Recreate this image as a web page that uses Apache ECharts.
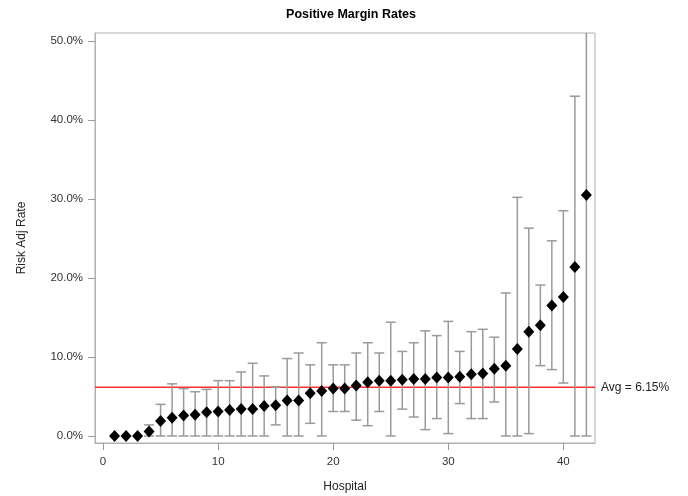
<!DOCTYPE html>
<html><head><meta charset="utf-8">
<script src="https://cdn.jsdelivr.net/npm/echarts@6/dist/echarts.min.js"></script>
<style>html,body{margin:0;padding:0;background:#fff}#c{width:688px;height:496px}</style>
</head><body><div id="c"></div>
<script>
const hospitals = [1,2,3,4,5,6,7,8,9,10,11,12,13,14,15,16,17,18,19,20,21,22,23,24,25,26,27,28,29,30,31,32,33,34,35,36,37,38,39,40,41,42];
const rates = [0,0,0,0.55,1.9,2.3,2.6,2.7,3.0,3.1,3.3,3.4,3.4,3.8,3.9,4.5,4.5,5.4,5.7,6.0,6.0,6.4,6.8,7.0,7.0,7.1,7.2,7.2,7.4,7.4,7.5,7.8,7.9,8.5,8.9,11.0,13.2,14.0,16.5,17.6,21.4,30.5];
const upper = [0,0,0,1.4,4.0,6.6,6.0,5.6,5.9,7.0,7.0,8.1,9.2,7.6,6.2,9.8,10.5,9.0,11.8,9.0,9.0,10.5,11.8,10.5,14.4,10.7,11.8,13.3,12.7,14.5,10.7,13.2,13.5,12.5,18.1,30.2,26.3,19.1,24.7,28.5,43.0,60.0];
const lower = [0,0,0,0,0,0,0,0,0,0,0,0,0,0,1.4,0,0,1.6,0,3.1,3.1,2.0,1.3,3.1,0,3.4,2.4,0.8,2.2,0.3,4.1,2.2,2.2,4.3,0,0,0.3,8.9,8.4,6.7,0,0];
const average = 6.15;
const avgLabel = 'Avg = 6.15%';
const xTicks = [0,10,20,30,40];
const yTicks = [0,10,20,30,40,50];
const xMin = -0.7, xMax = 42.75;

const chart = echarts.init(document.getElementById('c'));
const font = 'Liberation Sans, Arial, sans-serif';
const errData = hospitals.map((h,i)=>[h, lower[i], upper[i]]);
chart.setOption({
  animation:false,
  backgroundColor:'#fff',
  title:{text:'Positive Margin Rates', left:346, textAlign:'center', top:3,
    textStyle:{fontFamily:font, fontSize:12.5, fontWeight:'bold', color:'#000'}},
  grid:{left:95, right:93, top:33, bottom:53, show:true, borderColor:'#b0b0b0', borderWidth:1,
    backgroundColor:'#fff', outerBoundsMode:'none', containLabel:false},
  xAxis:{type:'value', min:xMin, max:xMax, name:'Hospital', nameLocation:'middle', nameGap:38,
    nameTextStyle:{fontFamily:font, fontSize:12, color:'#222'},
    axisLine:{show:true, onZero:false, lineStyle:{color:'#b0b0b0'}}, splitLine:{show:false},
    axisTick:{show:true, inside:false, customValues:xTicks, length:7, lineStyle:{color:'#999'}},
    axisLabel:{customValues:xTicks, fontFamily:font, fontSize:11.5, color:'#333', margin:13}},
  yAxis:{type:'value', min:-0.89, max:51, name:'Risk Adj Rate', nameLocation:'middle', nameGap:67,
    nameTextStyle:{fontFamily:font, fontSize:12, color:'#222'},
    axisLine:{show:true, onZero:false, lineStyle:{color:'#b0b0b0'}}, splitLine:{show:false},
    axisTick:{show:true, inside:false, customValues:yTicks, length:7, lineStyle:{color:'#999'}},
    axisLabel:{customValues:yTicks, fontFamily:font, fontSize:11.5, color:'#333', margin:12,
      formatter:v=>v.toFixed(1)+'%'}},
  series:[
    {type:'line', data:[[xMin, average],[xMax, average]], symbol:'none', z:1, silent:true,
      lineStyle:{color:'#ff3030', width:1.5},
      endLabel:{show:true, formatter:avgLabel, fontFamily:font, fontSize:12, color:'#222', distance:6}},
    {type:'custom', data:errData, z:2,
      renderItem:function(params, api){
        const x = api.value(0), lo = api.value(1), hi = api.value(2);
        if (hi - lo <= 0) return null;
        const cs = params.coordSys;
        const top = cs.y, bot = cs.y + cs.height;
        const pLo = api.coord([x, lo]), pHi = api.coord([x, hi]);
        const yHi = Math.max(pHi[1], top), yLo = Math.min(pLo[1], bot);
        const half = 5;
        const style = {stroke:'#9a9a9a', lineWidth:1.5, fill:null};
        const children = [{type:'line', shape:{x1:pLo[0], y1:yLo, x2:pLo[0], y2:yHi}, style:style}];
        if (pHi[1] >= top) children.push({type:'line', shape:{x1:pHi[0]-half, y1:pHi[1], x2:pHi[0]+half, y2:pHi[1]}, style:style});
        if (pLo[1] <= bot) children.push({type:'line', shape:{x1:pLo[0]-half, y1:pLo[1], x2:pLo[0]+half, y2:pLo[1]}, style:style});
        return {type:'group', children:children};
      }},
    {type:'scatter', data:hospitals.map((h,i)=>[h, rates[i]]), symbol:'diamond', symbolSize:[11,12], z:3,
      itemStyle:{color:'#000', opacity:1}}
  ]
});
</script></body></html>
